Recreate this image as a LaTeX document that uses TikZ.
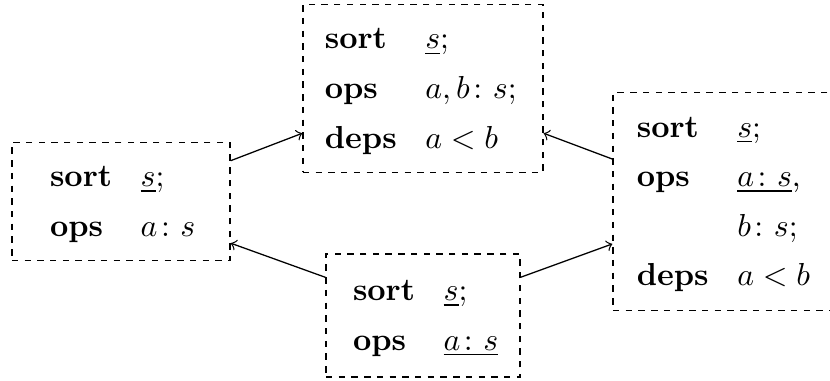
\documentclass[tikz,border=0pt]{standalone}
\usepackage{amsmath}
\usetikzlibrary{calc}
\renewcommand{\arraystretch}{1.3}

\begin{document}
\begin{tikzpicture}[font=\normalsize]
\tikzstyle{spec}=[draw,dash pattern=on 2pt off 2pt,align=left,inner ysep=3pt]
\useasboundingbox (0,0) rectangle (9.174,4.211);
\node[spec,text width=44.6pt,inner xsep=12pt] (l) at (1.337,1.984) {\begin{tabular}{@{}l@{\hspace{9pt}}l@{}}
\textbf{sort} & $\underline{s}$;\\
\textbf{ops} & $a\colon s$
\end{tabular}};
\node[spec,text width=61.7pt,inner xsep=6.9pt] (t) at (4.675,3.233) {\begin{tabular}{@{}l@{\hspace{9pt}}l@{}}
\textbf{sort} & $\underline{s}$;\\
\textbf{ops} & $a,b\colon s$;\\
\textbf{deps} & $a<b$
\end{tabular}};
\node[spec,text width=60.5pt,inner xsep=7.5pt] (r) at (8.102,1.984) {\begin{tabular}{@{}l@{\hspace{9pt}}l@{}}
\textbf{sort} & $\underline{s}$;\\
\textbf{ops} & $\underline{a\colon s}$,\\
 & $b\colon s$;\\
\textbf{deps} & $a<b$
\end{tabular}};
\node[spec,text width=44pt,inner xsep=8.5pt,minimum height=38.7pt] (b) at (4.675,0.724) {\begin{tabular}{@{}l@{\hspace{9pt}}l@{}}
\textbf{sort} & $\underline{s}$;\\
\textbf{ops} & $\underline{a\colon s}$
\end{tabular}};
\draw[->] ($(l.north east)+(0,-0.21)$) -- ($(t.south west)+(0,0.44)$);
\draw[->] ($(r.north west)+(0,-0.74)$) -- ($(t.south east)+(0,0.44)$);
\draw[->] ($(b.north west)+(0,-0.265)$) -- ($(l.south east)+(0,0.2)$);
\draw[->] ($(b.north east)+(0,-0.265)$) -- ($(r.south west)+(0,0.74)$);
\end{tikzpicture}
\end{document}
